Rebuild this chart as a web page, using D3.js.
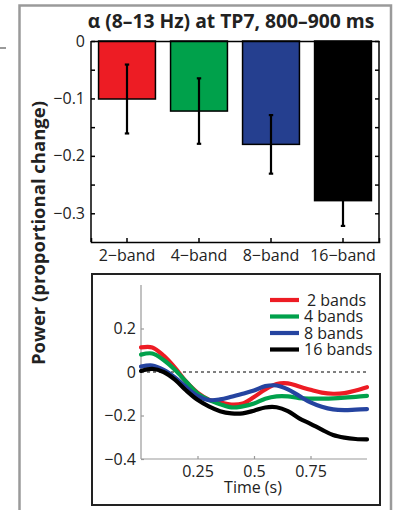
<!DOCTYPE html>
<html><head><meta charset="utf-8">
<script src="https://cdn.jsdelivr.net/npm/d3@7"></script>
<style>
body{margin:0;background:#fff;}
svg{display:block;font-family:"Open Sans",sans-serif;}
</style></head>
<body>
<svg id="c" width="396" height="510"></svg>
<script>
// ---- data ----
const categories = ["2\u2212band","4\u2212band","8\u2212band","16\u2212band"];
const barValues = [-0.101, -0.122, -0.180, -0.278];
const barErrors = [0.060, 0.057, 0.051, 0.044];
const barColors = ["#ed1c24","#00a14b","#253f8f","#000000"];
const barYTicks = [0,-0.05,-0.1,-0.15,-0.2,-0.25,-0.3];
const barYLabels = [0,-0.1,-0.2,-0.3];

const time = [0,0.05,0.1,0.15,0.2,0.25,0.3,0.35,0.4,0.45,0.5,0.55,0.6,0.65,0.7,0.75,0.8,0.85,0.9,0.95,1.0];
const band2  = [0.113,0.113,0.075,0.020,-0.045,-0.095,-0.127,-0.140,-0.150,-0.145,-0.115,-0.080,-0.055,-0.052,-0.067,-0.082,-0.095,-0.100,-0.097,-0.085,-0.070];
const band4  = [0.080,0.085,0.055,0.010,-0.045,-0.098,-0.128,-0.148,-0.163,-0.158,-0.145,-0.123,-0.112,-0.112,-0.120,-0.122,-0.122,-0.121,-0.118,-0.114,-0.110];
const band8  = [0.025,0.030,0.010,-0.025,-0.070,-0.110,-0.129,-0.126,-0.114,-0.100,-0.085,-0.065,-0.062,-0.080,-0.110,-0.140,-0.160,-0.172,-0.175,-0.173,-0.171];
const band16 = [0.005,0.014,0.000,-0.035,-0.085,-0.128,-0.158,-0.180,-0.190,-0.190,-0.178,-0.163,-0.162,-0.180,-0.213,-0.238,-0.265,-0.290,-0.302,-0.308,-0.310];
const seriesNames = ["2 bands","4 bands","8 bands","16 bands"];
const lineColors = ["#ed1c24","#00a14b","#2544a0","#000000"];
const lineYTicks = [0.2,0,-0.2,-0.4];
const lineXTicks = [0.25,0.5,0.75];

const svg = d3.select("#c");
const minus = v => v===0 ? "0" : (v<0 ? "\u2212"+String(Math.abs(v)) : String(v));
const FS = 16;

// outer gray frame
svg.append("path").attr("d","M19.5,510 V5.5 H391 V510").attr("fill","none").attr("stroke","#9a9a9a").attr("stroke-width",2.5);
svg.append("line").attr("x1",0).attr("x2",6).attr("y1",48).attr("y2",48).attr("stroke","#9a9a9a").attr("stroke-width",2);

// title
svg.append("text").attr("x",231).attr("y",28).attr("text-anchor","middle")
  .attr("font-weight","bold").attr("font-size",19.3).attr("fill","#222")
  .text("\u03b1 (8\u201313 Hz) at TP7, 800\u2013900 ms");

// y label
svg.append("text").attr("transform","translate(45,233) rotate(-90)").attr("text-anchor","middle")
  .attr("font-weight","bold").attr("font-size",18.5).attr("fill","#222")
  .text("Power (proportional change)");

// ---- bar chart ----
const bx = d3.scaleBand().domain(categories).range([91,379]).paddingInner(0.21).paddingOuter(0.105);
const by = d3.scaleLinear().domain([-0.35,0]).range([242,41]);
const topG = svg.append("g");

topG.selectAll("rect.bar").data(categories).join("rect").attr("class","bar")
  .attr("x",d=>bx(d)).attr("width",bx.bandwidth())
  .attr("y",by(0)).attr("height",(d,i)=>by(barValues[i])-by(0))
  .attr("fill",(d,i)=>barColors[i]).attr("stroke","#000").attr("stroke-width",1.5);

const eb = topG.selectAll("g.err").data(categories).join("g").attr("class","err");
eb.append("line").attr("x1",d=>bx(d)+bx.bandwidth()/2).attr("x2",d=>bx(d)+bx.bandwidth()/2)
  .attr("y1",(d,i)=>by(barValues[i]+barErrors[i])).attr("y2",(d,i)=>by(barValues[i]-barErrors[i]))
  .attr("stroke","#000").attr("stroke-width",2.2);
eb.each(function(d,i){
  const g=d3.select(this), cx=bx(d)+bx.bandwidth()/2;
  [barValues[i]+barErrors[i], barValues[i]-barErrors[i]].forEach(v=>{
    g.append("line").attr("x1",cx-2.2).attr("x2",cx+2.2).attr("y1",by(v)).attr("y2",by(v)).attr("stroke","#000").attr("stroke-width",2.2);
  });
});

// axes
const yl = topG.append("g").attr("transform","translate(91,0)")
  .call(d3.axisLeft(by).tickValues(barYTicks).tickSize(-4).tickPadding(6).tickFormat(v=>barYLabels.includes(v)?minus(v):""));
const yr = topG.append("g").attr("transform","translate(379,0)")
  .call(d3.axisRight(by).tickValues(barYTicks).tickSize(-4).tickFormat(""));
const xb = topG.append("g").attr("transform","translate(0,242)")
  .call(d3.axisBottom(bx).tickSize(-4).tickPadding(8));
const xt = topG.append("g").attr("transform","translate(0,41)")
  .call(d3.axisTop(bx).tickSize(0).tickFormat(""));
[yl,yr,xb,xt].forEach(a=>{
  a.select(".domain").attr("stroke","#000").attr("stroke-width",1.5);
  a.selectAll(".tick line").attr("stroke","#000").attr("stroke-width",1.5);
  a.selectAll("text").attr("font-size",FS).attr("fill","#222").attr("font-family","Open Sans, sans-serif");
});
yl.select(".domain").attr("d","M0,41V242");
yr.select(".domain").attr("d","M0,41V242");

// ---- line chart ----
svg.append("rect").attr("x",92).attr("y",274).attr("width",288).attr("height",231)
  .attr("fill","none").attr("stroke","#222").attr("stroke-width",2);

const lx = d3.scaleLinear().domain([0,1]).range([141,367]);
const ly = d3.scaleLinear().domain([-0.4,0.4]).range([459,285]);
const bot = svg.append("g");

bot.append("line").attr("x1",lx(0)).attr("x2",lx(1)).attr("y1",ly(0)).attr("y2",ly(0))
  .attr("stroke","#000").attr("stroke-width",1).attr("stroke-dasharray","3,3");

const lya = bot.append("g").attr("transform",`translate(${lx(0)},0)`)
  .call(d3.axisLeft(ly).tickValues(lineYTicks).tickSize(-3).tickPadding(5).tickFormat(minus));
const lxa = bot.append("g").attr("transform",`translate(0,${ly(-0.4)})`)
  .call(d3.axisBottom(lx).tickValues(lineXTicks).tickSize(-3).tickPadding(7).tickFormat(d=>String(d)));
[lya,lxa].forEach(a=>{
  a.select(".domain").attr("stroke","#999").attr("stroke-width",1.2);
  a.selectAll(".tick line").attr("stroke","#999").attr("stroke-width",1.2);
  a.selectAll("text").attr("font-size",FS).attr("fill","#222").attr("font-family","Open Sans, sans-serif");
});
lya.select(".domain").attr("d",`M0,${ly(0.4)}V${ly(-0.4)}`);
lxa.select(".domain").attr("d",`M${lx(0)},0H${lx(1)}`);

bot.append("text").attr("x",253).attr("y",493).attr("text-anchor","middle")
  .attr("font-size",FS).attr("fill","#222").text("Time (s)");

const series = [band2,band4,band8,band16];
const line = d3.line().x((d,i)=>lx(time[i])).y(d=>ly(d)).curve(d3.curveCatmullRom.alpha(0.5));
bot.selectAll("path.s").data(series).join("path").attr("class","s")
  .attr("d",line).attr("fill","none").attr("stroke",(d,i)=>lineColors[i])
  .attr("stroke-width",4.2).attr("stroke-linecap","round");

// legend
const lg = bot.selectAll("g.lg").data(seriesNames).join("g").attr("class","lg")
  .attr("transform",(d,i)=>`translate(0,${300+i*16.5})`);
lg.append("line").attr("x1",270).attr("x2",299).attr("stroke",(d,i)=>lineColors[i]).attr("stroke-width",4.2);
lg.append("text").attr("x",(d,i)=>i===0?307:304).attr("y",5.5).attr("font-size",FS).attr("fill","#222").text(d=>d);
</script>
</body></html>
